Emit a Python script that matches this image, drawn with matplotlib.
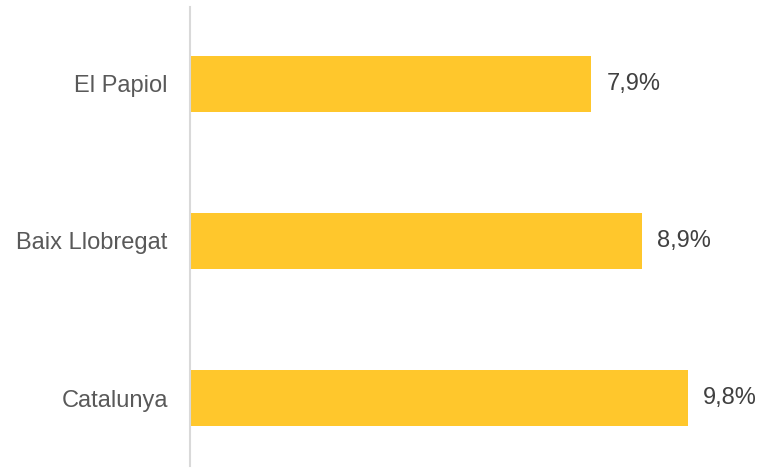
import matplotlib
matplotlib.use("Agg")
import matplotlib.pyplot as plt

categories = ["Catalunya", "Baix Llobregat", "El Papiol"]
values = [9.8, 8.9, 7.9]
labels = ["9,8%", "8,9%", "7,9%"]

plt.rcParams["font.family"] = ["Liberation Sans", "DejaVu Sans"]

fig = plt.figure(figsize=(7.63, 4.73), dpi=100)
ax = fig.add_axes([190 / 763, 7 / 473, 573 / 763, 459 / 473])

ypos = range(len(categories))
ax.barh(ypos, values, height=0.357, color="#FFC72C")
for y, v, lab in zip(ypos, values, labels):
    ax.text(v + 0.3, y, lab, va="center", ha="left", fontsize=17, color="#404040")

ax.set_xlim(0, 573 / 50.8)
ax.set_ylim(-0.433, 2.49)
ax.set_yticks(list(ypos))
ax.set_yticklabels(categories, fontsize=17, color="#595959")
ax.tick_params(axis="y", length=0, pad=16)
ax.set_xticks([])
for s in ["top", "right", "bottom"]:
    ax.spines[s].set_visible(False)
ax.spines["left"].set_color("#D9D9D9")
ax.spines["left"].set_linewidth(1.5)

fig.savefig("out.png", dpi=100)
